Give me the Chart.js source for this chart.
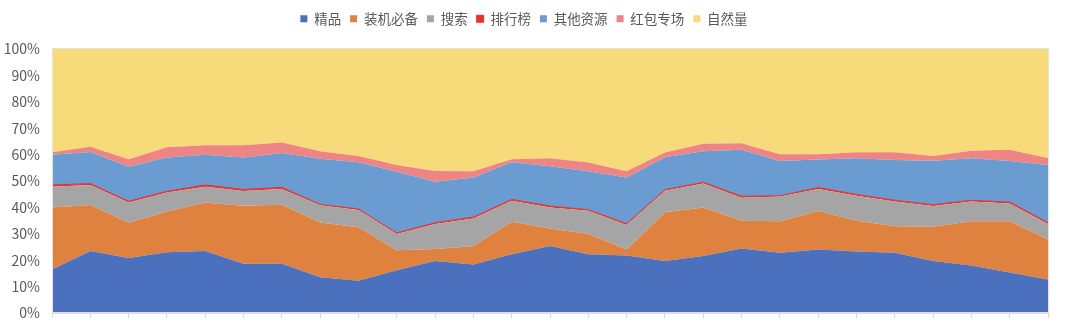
<!DOCTYPE html>
<html lang="zh">
  <head>
    <meta charset="UTF-8" />
    <title>渠道占比</title>
    <script src="https://cdn.jsdelivr.net/npm/chart.js"></script>
    <style>
      html, body { margin: 0; padding: 0; background: #fff; }
      #wrap { width: 1066px; height: 324px; }
    </style>
  </head>
  <body>
    <div id="wrap"><canvas id="shareChart"></canvas></div>
    <script>
      // 27 periods, values in percent (each column sums to ~100)
      const periods = Array.from({ length: 27 }, (_, i) => String(i + 1));

      const jingpin   = [16.5, 23.5, 20.8, 23.0, 23.5, 18.7, 18.7, 13.5, 12.2, 16.2, 19.7, 18.4, 22.3, 25.4, 22.3, 21.8, 19.7, 21.6, 24.4, 22.8, 24.1, 23.3, 22.8, 19.7, 18.0, 15.3, 12.7];
      const zhuangji  = [23.5, 17.4, 13.4, 15.4, 18.4, 21.9, 22.3, 20.8, 20.3, 7.6, 4.5, 7.0, 12.3, 6.6, 7.6, 2.3, 18.5, 18.4, 10.5, 12.0, 14.5, 11.6, 10.1, 13.0, 16.8, 19.5, 15.1];
      const sousuo    = [7.8, 7.6, 7.7, 7.2, 5.9, 5.6, 6.0, 6.5, 6.5, 6.1, 9.5, 10.4, 7.9, 8.0, 8.8, 9.2, 8.1, 9.1, 8.8, 9.3, 8.4, 9.5, 9.3, 7.8, 7.4, 6.7, 5.9];
      const paihang   = [0.7, 0.5, 0.4, 0.5, 0.7, 0.6, 0.6, 0.3, 0.4, 0.4, 0.5, 0.5, 0.5, 0.5, 0.4, 0.5, 0.4, 0.4, 0.5, 0.3, 0.5, 0.5, 0.5, 0.5, 0.5, 0.5, 0.5];
      const qita      = [11.4, 12.0, 13.1, 12.8, 11.4, 12.1, 13.0, 17.3, 17.7, 23.2, 15.5, 15.0, 14.1, 15.1, 14.6, 17.5, 12.3, 11.8, 17.6, 13.2, 10.6, 13.7, 15.3, 16.7, 15.9, 15.6, 21.9];
      const hongbao   = [1.0, 2.0, 2.8, 3.9, 3.6, 4.6, 4.0, 2.9, 2.4, 2.6, 4.1, 2.4, 1.1, 3.0, 3.3, 2.4, 1.8, 2.8, 2.5, 2.5, 2.0, 2.3, 2.9, 1.8, 2.9, 4.2, 2.6];
      const ziran     = [39.1, 37.0, 41.8, 37.2, 36.5, 36.5, 35.4, 38.7, 40.5, 43.9, 46.2, 46.3, 41.8, 41.4, 43.0, 46.3, 39.2, 35.9, 35.7, 39.9, 39.9, 39.1, 39.1, 40.5, 38.5, 38.2, 41.3];

      const yTicks = [0, 10, 20, 30, 40, 50, 60, 70, 80, 90, 100];

      function area(label, data, color, first, line) {
        return {
          label: label,
          data: data,
          backgroundColor: color,
          borderColor: color,
          borderWidth: line || 0,
          pointRadius: 0,
          pointHoverRadius: 0,
          tension: 0,
          fill: first ? "origin" : "-1",
        };
      }

      // light frame around the plot area
      const frame = {
        id: "frame",
        afterDraw(chart) {
          const { ctx, chartArea: a } = chart;
          ctx.save();
          ctx.strokeStyle = "#e3e3e3";
          ctx.lineWidth = 1;
          ctx.strokeRect(a.left + 0.5, a.top - 0.5, a.right - a.left, a.bottom - a.top);
          ctx.restore();
        },
      };

      // push plot area down a bit below the legend
      const legendGap = {
        id: "legendGap",
        beforeInit(chart) {
          const fit = chart.legend.fit;
          chart.legend.fit = function () {
            fit.call(this);
            this.height += 13.5;
          };
        },
      };

      const ctx = document.getElementById("shareChart").getContext("2d");
      new Chart(ctx, {
        type: "line",
        data: {
          labels: periods,
          datasets: [
            area("精品", jingpin, "#4a70be", true),
            area("装机必备", zhuangji, "#e0823f"),
            area("搜索", sousuo, "#a5a5a5"),
            area("排行榜", paihang, "#e8322b", false, 1),
            area("其他资源", qita, "#6a9bd1"),
            area("红包专场", hongbao, "#ef8484"),
            area("自然量", ziran, "#f7da7a"),
          ],
        },
        options: {
          responsive: true,
          maintainAspectRatio: false,
          animation: false,
          layout: { padding: { top: 3, right: 18, bottom: 0, left: 0 } },
          plugins: {
            tooltip: { enabled: false },
            legend: {
              position: "top",
              labels: {
                usePointStyle: true,
                pointStyle: "rect",
                pointStyleWidth: 7,
                boxHeight: 7,
                padding: 9,
                color: "#595959",
                font: { family: "'Noto Sans CJK SC', 'Noto Sans', sans-serif", size: 13.5 },
              },
            },
          },
          scales: {
            x: {
              offset: false,
              grid: {
                display: true,
                drawOnChartArea: false,
                drawTicks: true,
                tickLength: 5,
                color: "#d9d9d9",
              },
              border: { display: true, color: "#d9d9d9" },
              ticks: { display: false },
              afterFit(scale) { scale.height = 11; },
            },
            y: {
              stacked: true,
              min: 0,
              max: 100,
              afterBuildTicks(scale) { scale.ticks = yTicks.map((v) => ({ value: v })); },
              grid: {
                display: true,
                drawOnChartArea: false,
                drawTicks: true,
                tickLength: 10,
                color: "rgba(0,0,0,0)",
              },
              border: { display: false },
              ticks: {
                padding: 2,
                color: "#595959",
                font: { family: "'Noto Sans CJK SC', 'Noto Sans', sans-serif", size: 14 },
                callback: (v) => v + "%",
              },
              afterFit(scale) { scale.width = 52; },
            },
          },
        },
        plugins: [frame, legendGap],
      });
    </script>
  </body>
</html>
